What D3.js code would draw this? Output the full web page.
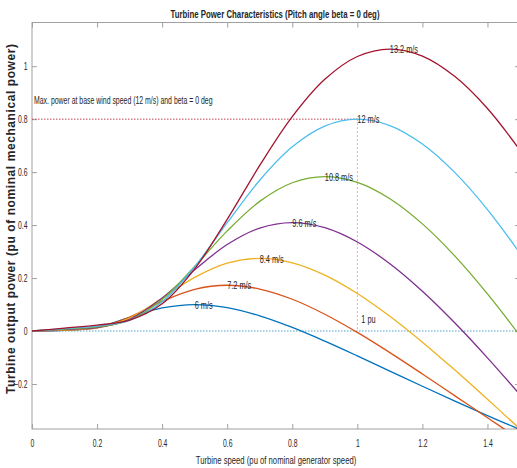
<!DOCTYPE html>
<html>
<head>
<meta charset="utf-8">
<script src="https://cdn.jsdelivr.net/npm/d3@7"></script>
<style>
  body { margin: 0; background: #fff; }
  text { font-family: "Liberation Sans", Arial, sans-serif; fill: #262626; }
</style>
</head>
<body>
<div id="plot"></div>
<script>
// --- Data ---
const turbineSpeed = [0, 0.1, 0.2, 0.3, 0.4, 0.5, 0.6, 0.7, 0.8, 0.9, 1.0, 1.1, 1.2, 1.3, 1.4, 1.5];

const windLabels = ["6 m/s", "7.2 m/s", "8.4 m/s", "9.6 m/s", "10.8 m/s", "12 m/s", "13.2 m/s"];

const power6   = [0, 0.0023, 0.0138, 0.0511, 0.0870, 0.1000, 0.0883, 0.0573, 0.0135, -0.0382, -0.0939, -0.1513, -0.2086, -0.2649, -0.3194, -0.3718];
const power7_2 = [0, 0.0033, 0.0121, 0.0525, 0.1120, 0.1572, 0.1728, 0.1585, 0.1199, 0.0634, -0.0053, -0.0816, -0.1623, -0.2448, -0.3276, -0.4094];
const power8_4 = [0, 0.0045, 0.0119, 0.0490, 0.1237, 0.2023, 0.2562, 0.2744, 0.2576, 0.2112, 0.1419, 0.0558, -0.0421, -0.1476, -0.2577, -0.3700];
const power9_6 = [0, 0.0059, 0.0131, 0.0443, 0.1245, 0.2309, 0.3266, 0.3889, 0.4096, 0.3903, 0.3362, 0.2541, 0.1502, 0.0302, -0.1013, -0.2405];
const power10_8 = [0, 0.0074, 0.0155, 0.0409, 0.1187, 0.2434, 0.3781, 0.4895, 0.5599, 0.5832, 0.5613, 0.4996, 0.4046, 0.2829, 0.1403, -0.0178];
const power12  = [0, 0.0092, 0.0187, 0.0399, 0.1105, 0.2432, 0.4090, 0.5695, 0.6956, 0.7740, 0.8000, 0.7757, 0.7060, 0.5980, 0.4587, 0.2934];
const power13_2 = [0, 0.0111, 0.0223, 0.0411, 0.1026, 0.2347, 0.4218, 0.6253, 0.8093, 0.9503, 1.0366, 1.0648, 1.0380, 0.9607, 0.8401, 0.6825];

const seriesColors = ["#0072BD", "#D95319", "#EDB120", "#7E2F8E", "#77AC30", "#4DBEEE", "#A2142F"];

const xTicks = [0, 0.2, 0.4, 0.6, 0.8, 1.0, 1.2, 1.4];
const yTicks = [-0.2, 0, 0.2, 0.4, 0.6, 0.8, 1.0];

const basePower = 0.8;   // max power at base wind speed
const baseSpeed = 1.0;   // 1 pu turbine speed

const allSeries = [power6, power7_2, power8_4, power9_6, power10_8, power12, power13_2];

// --- Layout ---
const W = 517, H = 468;
const mLeft = 32, mRight = 520, mTop = 22.5, mBottom = 429;
const squeeze = 0.7;   // the figure text is horizontally condensed

const svg = d3.select("#plot").append("svg")
  .attr("width", W)
  .attr("height", H);

const x = d3.scaleLinear().domain([0, 1.5]).range([mLeft, mRight]);
const y = d3.scaleLinear().domain([-0.37, 1.165]).range([mBottom, mTop]);

// condensed text helper
function addText(px, py, str, size, opts = {}) {
  return svg.append("text")
    .attr("transform", `translate(${px},${py}) scale(${opts.sx || squeeze},1)`)
    .attr("text-anchor", opts.anchor || "start")
    .attr("dy", opts.dy || null)
    .attr("font-size", size)
    .attr("font-weight", opts.weight || null)
    .text(str);
}

svg.append("defs").append("clipPath").attr("id", "clip")
  .append("rect")
  .attr("x", mLeft).attr("y", mTop)
  .attr("width", mRight - mLeft).attr("height", mBottom - mTop);

// box
svg.append("rect")
  .attr("x", mLeft).attr("y", mTop)
  .attr("width", mRight - mLeft).attr("height", mBottom - mTop)
  .attr("fill", "none")
  .attr("stroke", "#a0a0a0")
  .attr("stroke-width", 1);

// --- Axes (ticks inside, MATLAB style) ---
const fmt = d => d3.format("~g")(d);
const tickSx = 0.65;

const gx = svg.append("g")
  .attr("transform", `translate(0,${mBottom})`)
  .call(d3.axisBottom(x).tickValues(xTicks).tickSizeInner(-5).tickSizeOuter(0).tickPadding(11).tickFormat(fmt));
svg.append("g")
  .attr("transform", `translate(0,${mTop})`)
  .call(d3.axisTop(x).tickValues(xTicks).tickSizeInner(-5).tickSizeOuter(0).tickFormat(""));
const gy = svg.append("g")
  .attr("transform", `translate(${mLeft},0)`)
  .call(d3.axisLeft(y).tickValues(yTicks).tickSizeInner(-5).tickSizeOuter(0).tickFormat(fmt));
svg.append("g")
  .attr("transform", `translate(${mRight},0)`)
  .call(d3.axisRight(y).tickValues(yTicks).tickSizeInner(-5).tickSizeOuter(0).tickFormat(""));

svg.selectAll(".domain").remove();
svg.selectAll(".tick line").attr("stroke", "#a0a0a0");
svg.selectAll(".tick text")
  .attr("font-size", 10.5)
  .attr("fill", "#262626")
  .attr("font-family", "'Liberation Sans', Arial, sans-serif");
gx.selectAll(".tick text").attr("transform", `scale(${tickSx},1)`);
gy.selectAll(".tick text").attr("x", -4.5 / tickSx).attr("transform", `scale(${tickSx},1)`);

// --- Reference lines ---
const plotArea = svg.append("g").attr("clip-path", "url(#clip)");

plotArea.append("line")
  .attr("x1", x(0)).attr("x2", x(1.5))
  .attr("y1", y(0)).attr("y2", y(0))
  .attr("stroke", "#4aa3cc").attr("stroke-width", 1).attr("stroke-dasharray", "1.5,1.5");

plotArea.append("line")
  .attr("x1", x(0)).attr("x2", x(baseSpeed))
  .attr("y1", y(basePower)).attr("y2", y(basePower))
  .attr("stroke", "#c8404f").attr("stroke-width", 1).attr("stroke-dasharray", "1.5,1.5");

plotArea.append("line")
  .attr("x1", x(baseSpeed)).attr("x2", x(baseSpeed))
  .attr("y1", y(basePower)).attr("y2", y(0))
  .attr("stroke", "#eaa3b3").attr("stroke-width", 1).attr("stroke-dasharray", "2,2");

// --- Curves ---
const line = d3.line()
  .x((d, i) => x(turbineSpeed[i]))
  .y(d => y(d))
  .curve(d3.curveCatmullRom.alpha(0.5));

plotArea.selectAll(".curve")
  .data(allSeries)
  .enter()
  .append("path")
  .attr("class", "curve")
  .attr("d", line)
  .attr("fill", "none")
  .attr("stroke", (d, i) => seriesColors[i])
  .attr("stroke-width", 1.3);

// peak labels
allSeries.forEach((s, i) => {
  const k = d3.maxIndex(s);
  addText(x(turbineSpeed[k]), y(s[k]), windLabels[i], 10.5, { dy: "0.4em" });
});

// annotations
addText(x(0) + 2, y(basePower) - 15, "Max. power at base wind speed (12 m/s) and beta = 0 deg", 10.5, { sx: 0.66 });
addText(x(baseSpeed) + 4, y(0) - 8, "1 pu", 10.5);

// --- Titles ---
addText((mLeft + mRight) / 2 - 1, 18, "Turbine Power Characteristics (Pitch angle beta = 0 deg)", 11.5,
  { anchor: "middle", weight: "bold", sx: 0.68 });

addText((mLeft + mRight) / 2, 464, "Turbine speed (pu of nominal generator speed)", 11,
  { anchor: "middle", sx: 0.7 });

svg.append("text")
  .attr("transform", `translate(15,219) rotate(-90)`)
  .attr("text-anchor", "middle")
  .attr("font-size", 12)
  .attr("font-weight", "bold")
  .attr("textLength", 350)
  .attr("lengthAdjust", "spacing")
  .text("Turbine output power (pu of nominal mechanical power)");
</script>
</body>
</html>
